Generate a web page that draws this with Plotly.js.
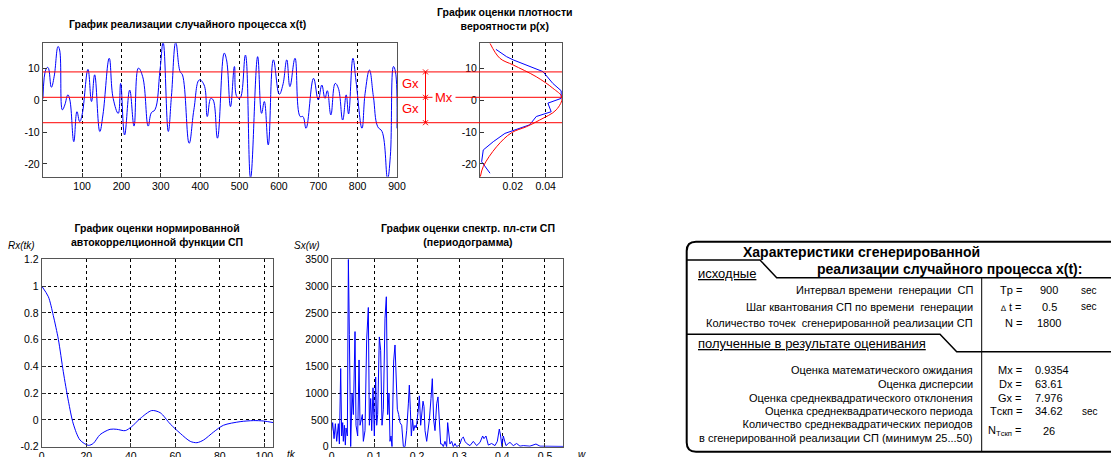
<!DOCTYPE html>
<html>
<head>
<meta charset="utf-8">
<script src="https://cdn.plot.ly/plotly-3.0.1.min.js"></script>
<style>
  html, body { margin: 0; padding: 0; background: #ffffff; }
  #chart { width: 1111px; height: 457px; }
</style>
</head>
<body>
<div id="chart"></div>
<script>
// ---------------- DATA ----------------
// Realisation of the random process x(t)
const tsTime = [0.5, 9, 13.5, 22, 29, 39, 43, 50, 56, 64, 69, 79, 87, 94, 100, 115, 124, 132, 145, 153, 169, 179, 192, 198, 208, 221, 232, 243, 254, 268, 276, 285, 298, 306, 319, 327, 338, 349, 355, 372, 384, 398, 410, 418, 427, 433, 444, 461, 467, 477, 487, 493, 501, 515, 528, 546, 556, 563, 573, 586, 601, 610, 620, 628, 641, 654, 661, 669, 688, 700, 709, 717, 723, 732, 743, 751, 762, 771, 777, 788, 796, 811, 819, 830, 840, 851, 862, 876, 883, 891, 896, 900];
const tsValue = [0.5, 10.0, 10.3, 4.1, 7.4, 16.9, 15.8, -3.0, -1.5, 1.7, 0.1, -13.0, -3.6, -6.7, -4.6, 9.7, -0.4, 8.0, -9.8, -4.6, 13.2, 0.6, -4.1, 5.3, -10.9, 3.2, -8.1, 10.1, 7.4, -8.1, -3.9, -3.0, 9.5, 18.2, -9.8, 1.2, 18.2, 9.0, 8.0, -13.5, -3.0, 6.4, 4.8, -5.1, 0.6, 0.1, -11.9, 14.8, 12.7, -2.0, 10.6, 1.2, 0.6, 14.2, -24.5, 13.7, -4.1, -0.4, -14.0, 12.7, 1.9, 4.8, 12.7, 4.3, 13.2, -5.1, -5.1, -8.8, 6.9, 0.1, 4.8, 0.6, 3.0, -4.6, 5.3, 3.8, -6.2, 1.7, -4.3, 13.2, 5.9, -8.8, 2.2, 9.5, 1.2, -8.3, -9.8, -24.5, -17.7, 10.6, 9.0, -8.8];

// Statistics
const Mx = 0.9354;
const Dx = 63.61;
const Gx = 7.976;

// Probability density estimate (blue) and normal law (red)
const densEstX = [16.0, 13.7, 12.7, 9.0, 5.3, 3.0, 0.6, -0.9, -3.6, -5.1, -7.7, -8.8, -10.4, -13.0, -15.6, -19.3, -22.9];
const densEstP = [0.0097, 0.0162, 0.0202, 0.0384, 0.0444, 0.0495, 0.0495, 0.0414, 0.0434, 0.0343, 0.0303, 0.0242, 0.0152, 0.0081, 0.0020, 0.0010, 0.0061];
const densNormX = [17.9, 13.2, 11.1, 7.4, 3.8, 0.9, -3.0, -6.2, -8.3, -10.2, -14.6, -20.8, -24.0];
const densNormP = [0.0061, 0.0121, 0.0202, 0.0343, 0.0444, 0.0500, 0.0465, 0.0364, 0.0283, 0.0192, 0.0101, 0.0020, 0.0002];

// Normalised autocorrelation function
const acfLag = [0, 3, 5.2, 7.5, 9.7, 12, 14.2, 17.2, 21, 23.2, 26.2, 30.7, 33.7, 37.5, 40.4, 44.2, 49.4, 53.2, 57.7, 62.2, 66.7, 69.7, 72.7, 77.2, 81.6, 89.1, 95.1, 99.6, 104];
const acfR = [1.0, 0.92, 0.78, 0.6, 0.36, 0.14, -0.03, -0.15, -0.19, -0.175, -0.11, -0.07, -0.07, -0.08, -0.05, 0.01, 0.07, 0.054, -0.03, -0.1, -0.16, -0.17, -0.15, -0.09, -0.04, -0.013, -0.005, -0.008, -0.02];

// Periodogram
const psdFreq = [0, 0.0023, 0.0055, 0.0086, 0.0117, 0.0156, 0.018, 0.0195, 0.0211, 0.0234, 0.0258, 0.0273, 0.0297, 0.032, 0.0336, 0.0367, 0.0391, 0.0414, 0.0445, 0.0477, 0.0508, 0.0547, 0.057, 0.0609, 0.0641, 0.0664, 0.0695, 0.0719, 0.0742, 0.0781, 0.082, 0.0859, 0.0883, 0.0914, 0.0938, 0.0969, 0.1, 0.1031, 0.1055, 0.1078, 0.1117, 0.1148, 0.118, 0.1211, 0.125, 0.1281, 0.1313, 0.1344, 0.1367, 0.1391, 0.1414, 0.1453, 0.1484, 0.1508, 0.1539, 0.157, 0.1602, 0.1641, 0.168, 0.1719, 0.1758, 0.1797, 0.182, 0.1844, 0.1867, 0.1898, 0.1922, 0.1953, 0.1984, 0.2031, 0.2055, 0.2086, 0.2109, 0.2141, 0.2164, 0.2188, 0.2227, 0.2289, 0.2328, 0.2359, 0.2391, 0.2422, 0.2461, 0.2492, 0.2523, 0.2555, 0.2586, 0.2617, 0.2656, 0.2695, 0.2719, 0.2742, 0.2773, 0.2813, 0.2852, 0.2891, 0.293, 0.2969, 0.3008, 0.3047, 0.3086, 0.3125, 0.3164, 0.3242, 0.332, 0.3398, 0.3477, 0.3539, 0.357, 0.3617, 0.3672, 0.375, 0.3828, 0.3883, 0.393, 0.3961, 0.3992, 0.4023, 0.4055, 0.4086, 0.4141, 0.418, 0.4258, 0.4336, 0.4414, 0.4492, 0.4648, 0.4789, 0.4883, 0.5117, 0.543];
const psdValue = [300, 450, 150, 430, 100, 430, 50, 1000, 1460, 200, 450, 100, 400, 30, 350, 200, 3500, 2100, 0, 1000, 600, 2150, 400, 200, 1620, 400, 550, 600, 100, 300, 2000, 2600, 400, 900, 300, 1100, 200, 1300, 400, 600, 2050, 1800, 400, 700, 2400, 2800, 600, 1000, 100, 200, 0, 1600, 1900, 1200, 700, 600, 450, 400, 0, 0, 300, 800, 1150, 700, 200, 500, 300, 400, 350, 700, 950, 400, 600, 850, 750, 300, 100, 500, 900, 1270, 500, 300, 800, 930, 500, 50, 50, 0, 100, 0, 450, 300, 50, 100, 0, 60, 0, 20, 50, 150, 180, 100, 60, 20, 100, 20, 80, 200, 150, 200, 30, 60, 20, 100, 330, 200, 0, 200, 100, 20, 60, 80, 20, 60, 10, 20, 10, 50, 10, 10, 5];

// Tick labels
const tsXTicks = [100, 200, 300, 400, 500, 600, 700, 800, 900];
const tsYTicks = [10, 0, -10, -20];
const tsYTickText = ["10", "0", "-10", "-20"];
const densXTicks = [0.02, 0.04];
const densXTickText = ["0.02", "0.04"];
const acfXTicks = [0, 20, 40, 60, 80, 100];
const acfYTicks = [1.2, 1, 0.8, 0.6, 0.4, 0.2, 0, -0.2];
const acfYTickText = ["1.2", "1", "0.8", "0.6", "0.4", "0.2", "0", "-0.2"];
const psdXTicks = [0, 0.1, 0.2, 0.3, 0.4, 0.5];
const psdXTickText = ["0", "0.1", "0.2", "0.3", "0.4", "0.5"];
const psdYTicks = [0, 500, 1000, 1500, 2000, 2500, 3000, 3500];

// Texts
const titleTs = "График реализации случайного процесса x(t)";
const titleDens = "График оценки плотности<br>вероятности p(x)";
const titleAcf = "График оценки нормированной<br>автокоррелционной функции СП";
const titlePsd = "График оценки спектр. пл-сти СП<br>(периодограмма)";
const labelAcfY = "Rx(tk)";
const labelAcfX = "tk";
const labelPsdY = "Sx(w)";
const labelPsdX = "w";

const tableHeader1 = "Характеристики сгенерированной";
const tableHeader2 = "реализации случайного процесса x(t):";
const sectionInput = "исходные";
const sectionEst = "полученные в результате оценивания";
const inputLabels = ["Интервал времени  генерации  СП", "Шаг квантования СП по времени  генерации", "Количество точек  сгенерированной реализации СП"];
const inputSymbols = ["Tp =", "<span style='font-size:8px'>∆</span> t =", "N ="];
const inputValues = ["900", "0.5", "1800"];
const inputUnits = ["sec", "sec", ""];
const estLabels = ["Оценка математического ожидания", "Оценка дисперсии", "Оценка среднеквадратического отклонения", "Оценка среднеквадратического периода", "Количество среднеквадратических периодов<br>в сгенерированной реализации СП (минимум 25...50)"];
const estSymbols = ["Mx =", "Dx =", "Gx =", "Tскп =", "N<sub>Tскп</sub> ="];
const estValues = ["0.9354", "63.61", "7.976", "34.62", "26"];
const estUnits = ["", "", "", "sec", ""];

// ---------------- LAYOUT ----------------
const W = 1111, H = 457;
const PX = x => x / W;
const PY = y => 1 - y / H;
const domX = (a, b) => [PX(a), PX(b)];
const domY = (top, bottom) => [PY(bottom), PY(top)];

const FONT = "Liberation Sans, Arial, sans-serif";
const tickFont = { family: FONT, size: 10.5, color: "#000" };
const BLUE = "#0000ff";
const RED = "#ff0000";

function axisBase(extra) {
  return Object.assign({
    showline: true, mirror: true, linecolor: "#555", linewidth: 1,
    ticks: "inside", ticklen: 4, tickcolor: "#333", tickwidth: 1,
    tickfont: tickFont, zeroline: false, showgrid: false,
    gridcolor: "#000", griddash: "dot", gridwidth: 1,
    fixedrange: true, automargin: false
  }, extra);
}

const boxTs = { l: 42.7, r: 397, t: 43.3, b: 176.7 };
const boxDens = { l: 480, r: 562, t: 43.3, b: 176.7 };
const boxAcf = { l: 41.7, r: 273.3, t: 259.3, b: 446.7 };
const boxPsd = { l: 331.7, r: 563.3, t: 259.3, b: 446.7 };
const tsRange = [-24, 17.9];

const traces = [
  { x: tsTime, y: tsValue, xaxis: "x", yaxis: "y", type: "scatter", mode: "lines",
    line: { color: BLUE, width: 1, shape: "spline", smoothing: 1.2 }, hoverinfo: "skip" },
  { x: densEstP, y: densEstX, xaxis: "x2", yaxis: "y2", type: "scatter", mode: "lines",
    line: { color: BLUE, width: 1 }, hoverinfo: "skip" },
  { x: densNormP, y: densNormX, xaxis: "x2", yaxis: "y2", type: "scatter", mode: "lines",
    line: { color: RED, width: 1, shape: "spline", smoothing: 1 }, hoverinfo: "skip" },
  { x: acfLag, y: acfR, xaxis: "x3", yaxis: "y3", type: "scatter", mode: "lines",
    line: { color: BLUE, width: 1, shape: "spline", smoothing: 0.8 }, hoverinfo: "skip" },
  { x: psdFreq, y: psdValue, xaxis: "x4", yaxis: "y4", type: "scatter", mode: "lines",
    line: { color: BLUE, width: 1 }, hoverinfo: "skip" }
];

const layout = {
  width: W, height: H,
  margin: { l: 0, r: 0, t: 0, b: 0, pad: 0 },
  paper_bgcolor: "#ffffff", plot_bgcolor: "#ffffff",
  showlegend: false,
  font: { family: FONT, size: 11, color: "#000" },
  xaxis: axisBase({ domain: domX(boxTs.l, boxTs.r), range: [0, 900], tickvals: tsXTicks, showgrid: true, anchor: "y" }),
  yaxis: axisBase({ domain: domY(boxTs.t, boxTs.b), range: tsRange, tickvals: tsYTicks, ticktext: tsYTickText, anchor: "x" }),
  xaxis2: axisBase({ domain: domX(boxDens.l, boxDens.r), range: [0, 0.05], tickvals: densXTicks, ticktext: densXTickText, showgrid: true, anchor: "y2" }),
  yaxis2: axisBase({ domain: domY(boxDens.t, boxDens.b), range: tsRange, tickvals: tsYTicks, ticktext: tsYTickText, anchor: "x2" }),
  xaxis3: axisBase({ domain: domX(boxAcf.l, boxAcf.r), range: [0, 104], tickvals: acfXTicks, showgrid: true, anchor: "y3" }),
  yaxis3: axisBase({ domain: domY(boxAcf.t, boxAcf.b), range: [-0.2, 1.2], tickvals: acfYTicks, ticktext: acfYTickText, showgrid: true, anchor: "x3" }),
  xaxis4: axisBase({ domain: domX(boxPsd.l, boxPsd.r), range: [0, 0.543], tickvals: psdXTicks, ticktext: psdXTickText, showgrid: true, anchor: "y4" }),
  yaxis4: axisBase({ domain: domY(boxPsd.t, boxPsd.b), range: [0, 3500], tickvals: psdYTicks, showgrid: true, anchor: "x4" }),
  shapes: [],
  annotations: []
};

// Red level lines Mx, Mx +/- Gx across the time-series and density panels
[Mx + Gx, Mx, Mx - Gx].forEach(v => {
  layout.shapes.push({ type: "line", xref: "paper", yref: "y", x0: PX(boxTs.l), x1: PX(boxDens.r), y0: v, y1: v,
    line: { color: RED, width: 1 }, layer: "above" });
});
// vertical measuring line with crosses
const mx = 425.5;
layout.shapes.push({ type: "line", xref: "paper", yref: "y", x0: PX(mx), x1: PX(mx), y0: Mx + Gx, y1: Mx - Gx,
  line: { color: RED, width: 1 } });
const yPerPx = (tsRange[1] - tsRange[0]) / (boxTs.b - boxTs.t);
[Mx + Gx, Mx, Mx - Gx].forEach(v => {
  const d = 2.5;
  layout.shapes.push({ type: "line", xref: "paper", yref: "y", x0: PX(mx - d), x1: PX(mx + d), y0: v - d * yPerPx, y1: v + d * yPerPx, line: { color: RED, width: 1 } });
  layout.shapes.push({ type: "line", xref: "paper", yref: "y", x0: PX(mx - d), x1: PX(mx + d), y0: v + d * yPerPx, y1: v - d * yPerPx, line: { color: RED, width: 1 } });
});
const redFont = { family: FONT, size: 13, color: RED };
layout.annotations.push({ text: "Gx", xref: "paper", yref: "y", x: PX(410), y: Mx + Gx / 2 + 0.4, showarrow: false, font: redFont, xanchor: "center", yanchor: "middle" });
layout.annotations.push({ text: "Gx", xref: "paper", yref: "y", x: PX(410), y: Mx - Gx / 2 + 0.4, showarrow: false, font: redFont, xanchor: "center", yanchor: "middle" });
layout.annotations.push({ text: "Mx", xref: "paper", yref: "y", x: PX(444), y: Mx, showarrow: false, font: redFont, xanchor: "center", yanchor: "middle", bgcolor: "#ffffff", borderpad: 2 });

// Titles
function ann(text, x, y, opts) {
  layout.annotations.push(Object.assign({ text: text, xref: "paper", yref: "paper", x: PX(x), y: PY(y), showarrow: false,
    xanchor: "center", yanchor: "middle", font: { family: FONT, size: 11, color: "#000" } }, opts || {}));
}
const titleFont = { family: FONT, size: 10.5, color: "#000" };
ann("<b>" + titleTs + "</b>", 187, 24, { font: titleFont });
ann("<b>" + titleDens + "</b>", 505, 19, { font: titleFont });
ann("<b>" + titleAcf + "</b>", 157, 234.5, { font: titleFont });
ann("<b>" + titlePsd + "</b>", 468, 234.5, { font: titleFont });
const italFont = { family: FONT, size: 10, color: "#000" };
ann("<i>" + labelAcfY + "</i>", 21, 245, { font: italFont });
ann("<i>" + labelPsdY + "</i>", 307, 245, { font: italFont });
ann("<i>" + labelAcfX + "</i>", 291, 454, { font: italFont });
ann("<i>" + labelPsdX + "</i>", 582, 454, { font: italFont });

// ---------------- TABLE ----------------
const outer = "M " + PX(1120) + "," + PY(241.7) + " L " + PX(696) + "," + PY(241.7) +
  " Q " + PX(686.7) + "," + PY(241.7) + " " + PX(686.7) + "," + PY(251) +
  " L " + PX(686.7) + "," + PY(442.5) +
  " Q " + PX(686.7) + "," + PY(451.7) + " " + PX(696) + "," + PY(451.7) +
  " L " + PX(1120) + "," + PY(451.7);
layout.shapes.push({ type: "path", xref: "paper", yref: "paper", path: outer, line: { color: "#000", width: 2 } });
const sep1 = "M " + PX(686.7) + "," + PY(260) + " L " + PX(760) + "," + PY(260) + " L " + PX(776.7) + "," + PY(277.7) + " L " + PX(1120) + "," + PY(277.7);
layout.shapes.push({ type: "path", xref: "paper", yref: "paper", path: sep1, line: { color: "#000", width: 1.5 } });
const sep2 = "M " + PX(686.7) + "," + PY(334.3) + " L " + PX(940) + "," + PY(334.3) + " L " + PX(956.7) + "," + PY(351.7) + " L " + PX(1120) + "," + PY(351.7);
layout.shapes.push({ type: "path", xref: "paper", yref: "paper", path: sep2, line: { color: "#000", width: 1.5 } });
layout.shapes.push({ type: "line", xref: "paper", yref: "paper", x0: PX(981.7), x1: PX(981.7), y0: PY(277.7), y1: PY(451.7), line: { color: "#000", width: 1 } });

const tf = { family: FONT, size: 11, color: "#000" };
ann("<b>" + tableHeader1 + "</b>", 741, 251.5, { xanchor: "left", font: { family: FONT, size: 14, color: "#000" } });
ann("<b>" + tableHeader2 + "</b>", 815, 268.5, { xanchor: "left", font: { family: FONT, size: 14, color: "#000" } });
ann("<u>" + sectionInput + "</u>", 696, 273.5, { xanchor: "left", font: { family: FONT, size: 13, color: "#000" } });
ann("<u>" + sectionEst + "</u>", 696, 343.5, { xanchor: "left", font: { family: FONT, size: 13, color: "#000" } });

const inputRowsY = [290, 306.7, 323.3];
inputLabels.forEach((s, i) => {
  ann(s, 975, inputRowsY[i], { xanchor: "right", font: tf });
  ann(inputSymbols[i], 1024, inputRowsY[i], { xanchor: "right", font: tf });
  ann(inputValues[i], 1049, inputRowsY[i], { xanchor: "center", font: tf });
  if (inputUnits[i]) ann(inputUnits[i], 1079, inputRowsY[i], { xanchor: "left", font: { family: FONT, size: 10, color: "#000" } });
});
const estRowsY = [370, 383.5, 397.5, 411, 431];
estLabels.forEach((s, i) => {
  ann(s, 975, estRowsY[i], { xanchor: "right", align: "right", font: tf });
  ann(estSymbols[i], 1024, estRowsY[i], { xanchor: "right", font: tf });
  if (i < 4) ann(estValues[i], 1033, estRowsY[i], { xanchor: "left", font: tf });
  else ann(estValues[i], 1049, estRowsY[i], { xanchor: "center", font: tf });
  if (estUnits[i]) ann(estUnits[i], 1080, estRowsY[i], { xanchor: "left", font: { family: FONT, size: 10, color: "#000" } });
});

Plotly.newPlot("chart", traces, layout, { staticPlot: true, displayModeBar: false });
</script>
</body>
</html>
